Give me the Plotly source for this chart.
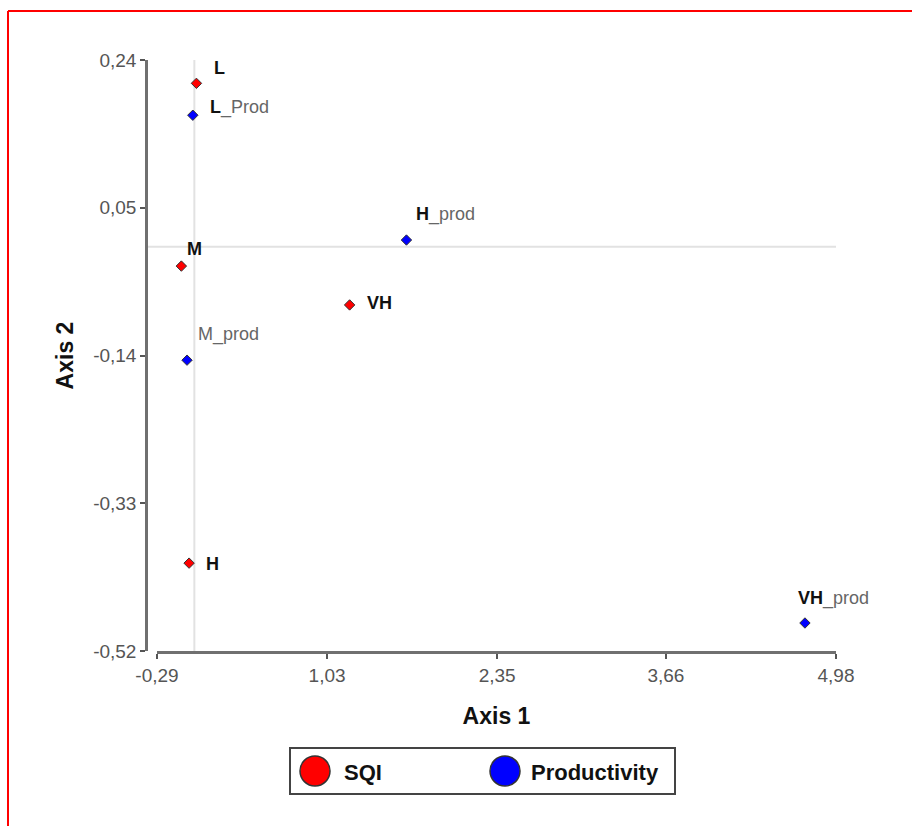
import plotly.graph_objects as go

# Series: SQI classes and productivity classes on two ordination axes
sqi_names = ["L", "M", "H", "VH"]
sqi_x = [0.016, -0.101, -0.041, 1.205]
sqi_y = [0.210, -0.025, -0.407, -0.075]
sqi_labels = ["<b>L</b>", "<b>M</b>", "<b>H</b>", "<b>VH</b>"]

prod_names = ["L_Prod", "M_prod", "H_prod", "VH_prod"]
prod_x = [-0.012, -0.057, 1.646, 4.739]
prod_y = [0.169, -0.146, 0.0085, -0.484]
prod_labels = [
    "<b>L</b><span style='color:#666'>_Prod</span>",
    "<span style='color:#666'>M_prod</span>",
    "<b>H</b><span style='color:#666'>_prod</span>",
    "<b>VH</b><span style='color:#666'>_prod</span>",
]

series_names = ["SQI", "Productivity"]
series_colors = ["#ff0000", "#0000ff"]

x_ticks = [-0.29, 1.03, 2.35, 3.66, 4.98]
x_ticktext = ["-0,29", "1,03", "2,35", "3,66", "4,98"]
y_ticks = [-0.52, -0.33, -0.14, 0.05, 0.24]
y_ticktext = ["-0,52", "-0,33", "-0,14", "0,05", "0,24"]

# label offsets in pixels (dx, dy) relative to each point
sqi_offsets = [(16, 15), (4, 17), (15, -1), (15, 2)]
prod_offsets = [(15, 8), (9, 26), (8, 26), (-9, 25)]

W, H = 912, 826
ML, MR, MT, MB = 146, 76, 60, 175
PW, PH = W - ML - MR, H - MT - MB


def xp(px):
    return (px - ML) / PW


def yp(py):
    return (H - MB - py) / PH


FONT = "Liberation Sans, Arial, sans-serif"

fig = go.Figure()
for xs, ys, names, color in [(sqi_x, sqi_y, sqi_names, series_colors[0]),
                             (prod_x, prod_y, prod_names, series_colors[1])]:
    fig.add_trace(go.Scatter(
        x=xs, y=ys, mode="markers", text=names, showlegend=False,
        marker=dict(symbol="diamond", size=8, color=color,
                    line=dict(color="#333333", width=1)),
        hoverinfo="text+x+y",
    ))

annotations = []
for xs, ys, labels, offs in [(sqi_x, sqi_y, sqi_labels, sqi_offsets),
                             (prod_x, prod_y, prod_labels, prod_offsets)]:
    for x, y, lab, (dx, dy) in zip(xs, ys, labels, offs):
        annotations.append(dict(
            x=x, y=y, xref="x", yref="y", text=lab, showarrow=False,
            xanchor="left", yanchor="middle", xshift=dx, yshift=dy,
            font=dict(family=FONT, size=18, color="#111111"),
        ))

shapes = [
    # reference lines through the origin
    dict(type="line", xref="x", yref="paper", x0=0, x1=0, y0=0, y1=1,
         line=dict(color="#e2e2e2", width=2), layer="below"),
    dict(type="line", xref="paper", yref="y", x0=xp(148), x1=1, y0=0, y1=0,
         line=dict(color="#e2e2e2", width=2), layer="below"),
    # outer red frame
    dict(type="line", xref="paper", yref="paper", x0=xp(8), x1=xp(8),
         y0=yp(11), y1=yp(H + 10), line=dict(color="#ff0000", width=2)),
    dict(type="line", xref="paper", yref="paper", x0=xp(8), x1=xp(W + 10),
         y0=yp(11), y1=yp(11), line=dict(color="#ff0000", width=2)),
    # legend box
    dict(type="rect", xref="paper", yref="paper", x0=xp(290), x1=xp(675),
         y0=yp(794), y1=yp(748), line=dict(color="#444444", width=2),
         fillcolor="white"),
]

# legend entries
legend_items = [(315, 342), (505, 529)]
for (cx, tx), name, color in zip(legend_items, series_names, series_colors):
    r = 15
    shapes.append(dict(type="circle", xref="paper", yref="paper",
                       x0=xp(cx - r), x1=xp(cx + r), y0=yp(771 + r), y1=yp(771 - r),
                       fillcolor=color, line=dict(color="#333333", width=1.5)))
    annotations.append(dict(x=xp(tx), y=yp(772), xref="paper", yref="paper",
                            text="<b>%s</b>" % name, showarrow=False,
                            xanchor="left", yanchor="middle",
                            font=dict(family=FONT, size=22, color="#111111")))

fig.update_layout(
    width=W, height=H,
    margin=dict(l=ML, r=MR, t=MT, b=MB),
    paper_bgcolor="white", plot_bgcolor="white",
    font=dict(family=FONT),
    shapes=shapes, annotations=annotations,
    xaxis=dict(
        domain=[xp(157), 1], range=[-0.29, 4.98], anchor="y",
        tickvals=x_ticks, ticktext=x_ticktext,
        showgrid=False, zeroline=False,
        showline=True, linecolor="#707070", linewidth=2.5,
        ticks="outside", ticklen=5, tickwidth=2, tickcolor="#555555",
        tickfont=dict(family=FONT, size=19, color="#555555"),
        title=dict(text="<b>Axis 1</b>", standoff=24,
                   font=dict(family=FONT, size=23, color="#111111")),
    ),
    yaxis=dict(
        domain=[0, 1], range=[-0.52, 0.24], anchor="free", position=0,
        tickvals=y_ticks, ticktext=y_ticktext,
        showgrid=False, zeroline=False,
        showline=True, linecolor="#707070", linewidth=2.5,
        ticks="outside", ticklen=5, tickwidth=2, tickcolor="#555555",
        tickfont=dict(family=FONT, size=19, color="#555555"),
        title=dict(text="<b>Axis 2</b>", standoff=12,
                   font=dict(family=FONT, size=23, color="#111111")),
    ),
)

fig.write_html("out.html")
